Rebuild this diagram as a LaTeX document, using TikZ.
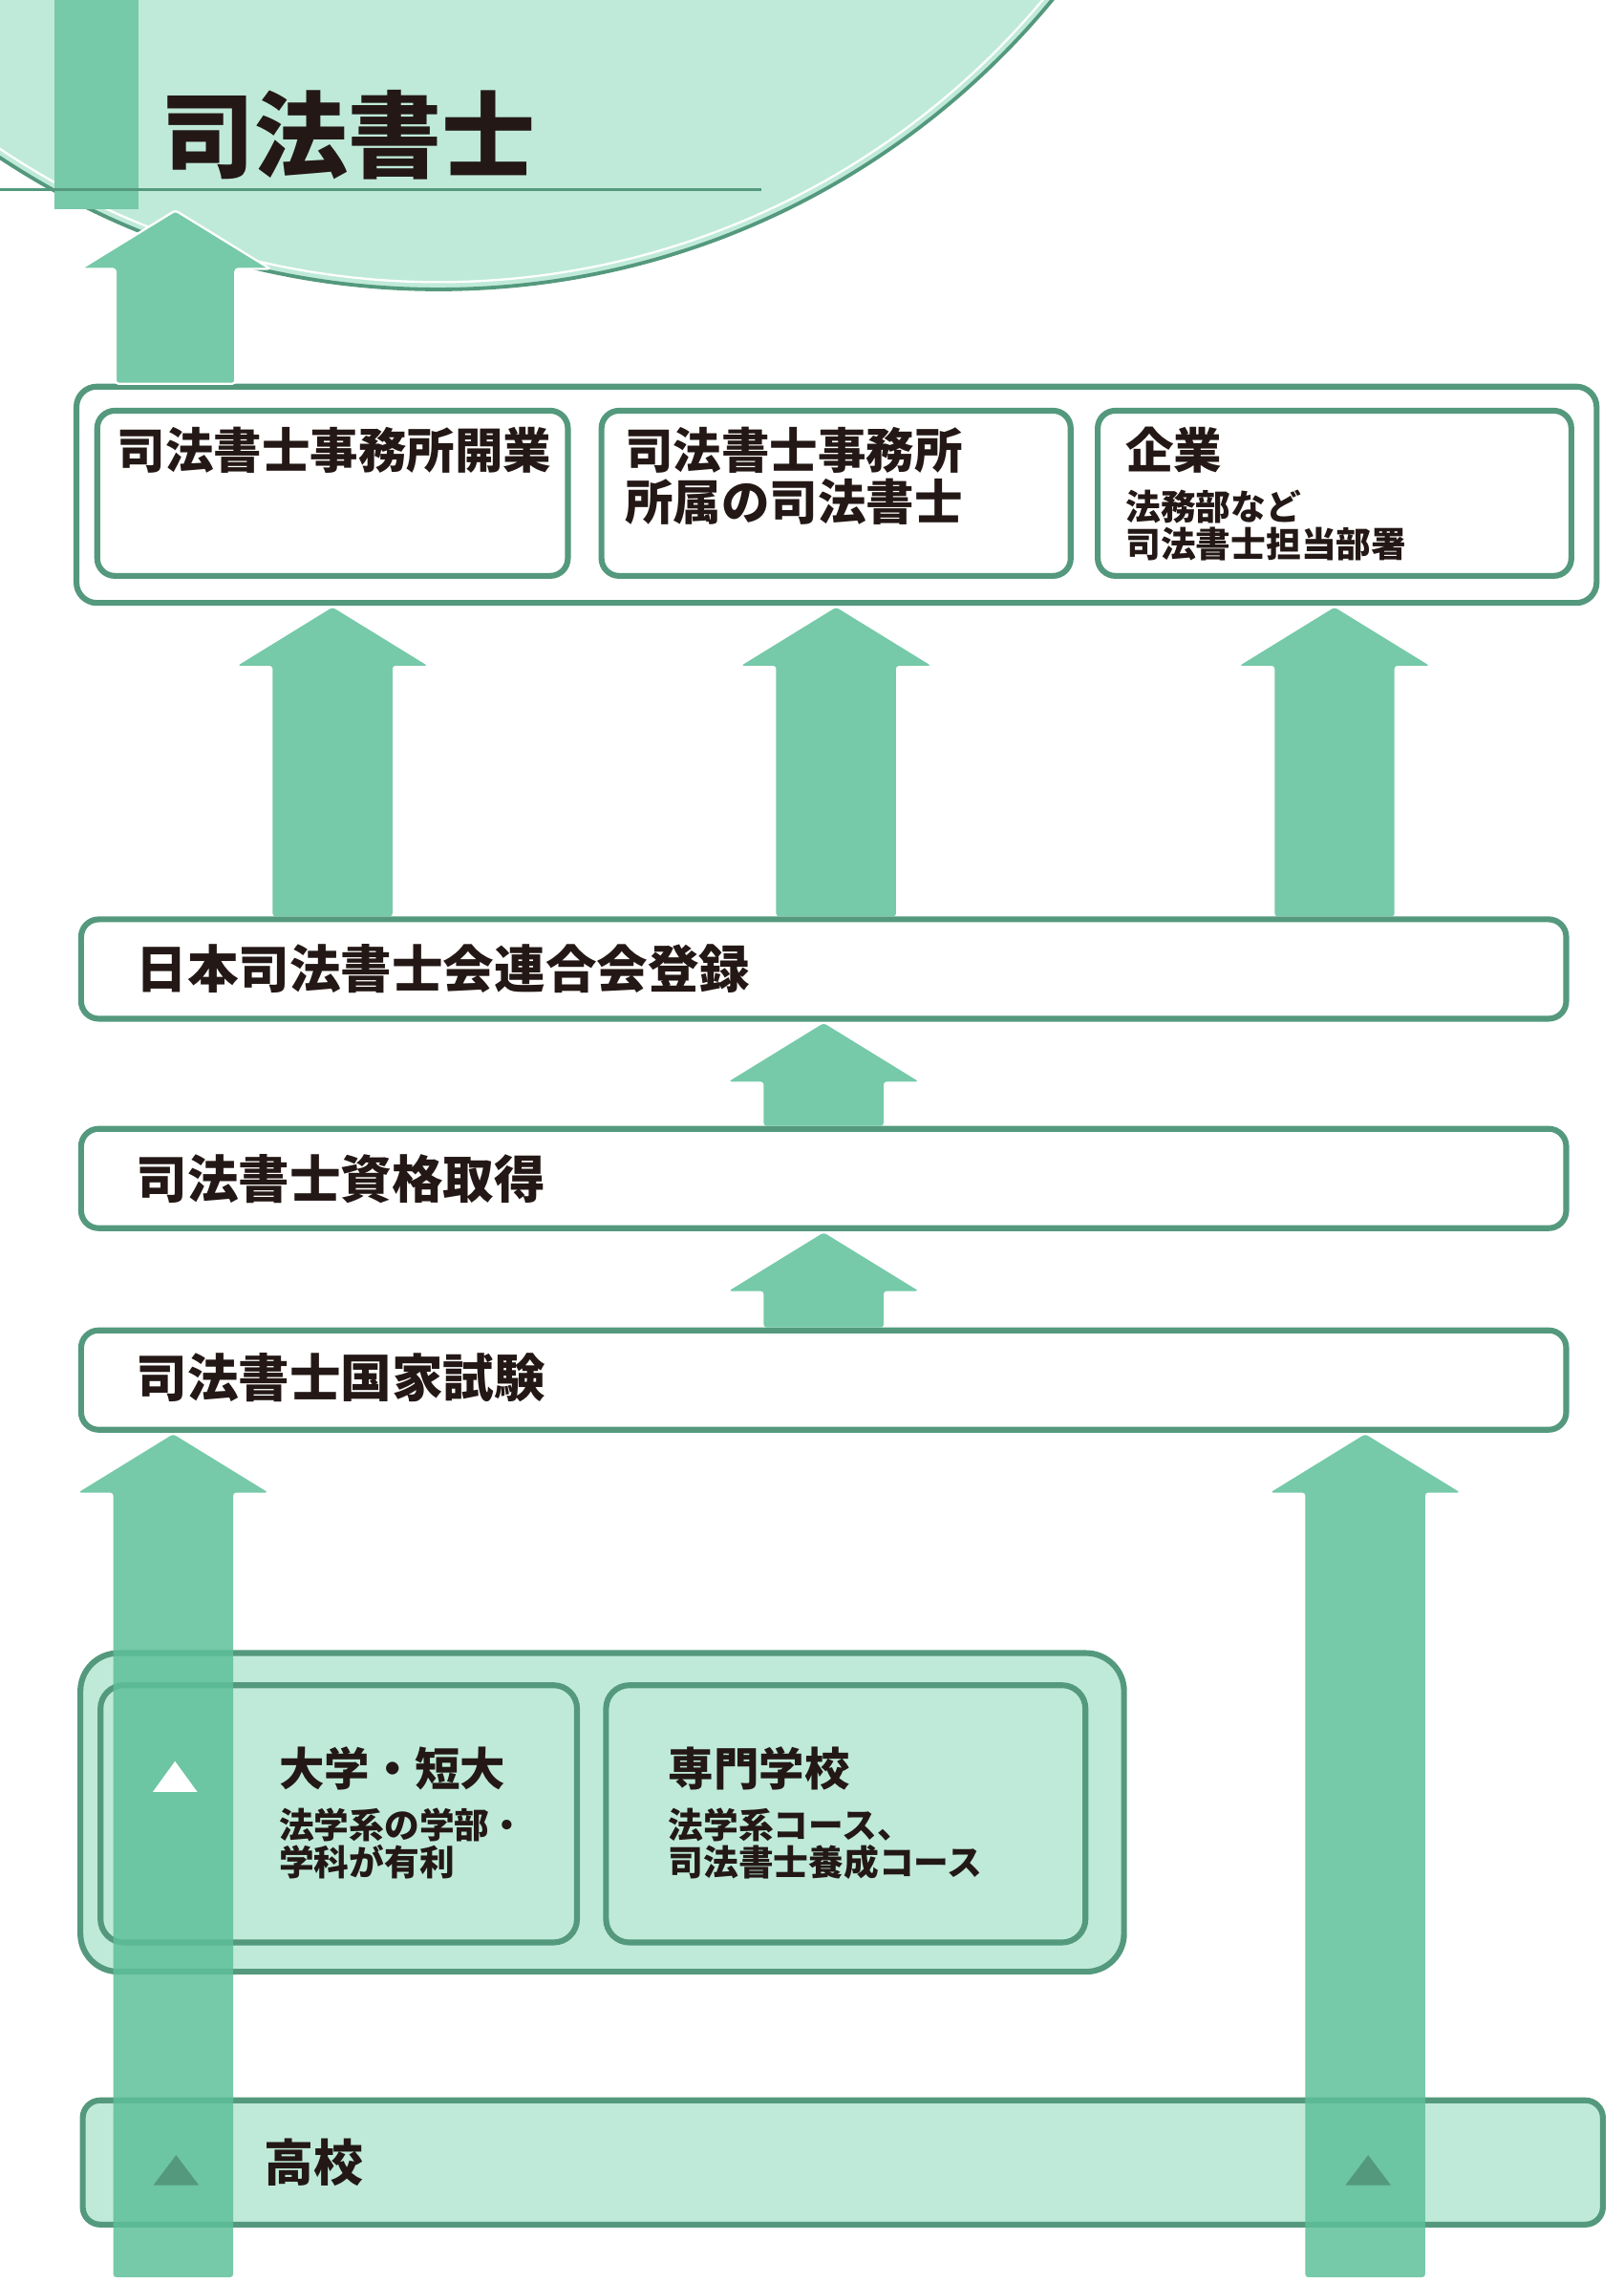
\documentclass[tikz,border=0pt]{standalone}
\usepackage{fontspec}
\usepackage{tikz}
\usetikzlibrary{positioning, calc}
\newfontfamily\jpfont{Noto Sans CJK JP}

\definecolor{linegreen}{HTML}{54997D}
\definecolor{palegreen}{HTML}{BFEADA}
\definecolor{arrowgreen}{HTML}{76C9A9}
\definecolor{arrowdeep}{HTML}{5EBF9A}
\definecolor{inkblack}{HTML}{231815}

% block arrow standing on one node and pointing up at another
\newcommand{\blockarrow}[3][]{%
  \fill[arrowgreen, rounded corners=2pt, #1] let \p1=(#2), \p2=(#3) in
    (\x1-41pt,\y1+2pt) -- (\x1-41pt,\y2-43pt) -- (\x1-65pt,\y2-43pt) -- (\x1,\y2-3pt)
    -- (\x1+65pt,\y2-43pt) -- (\x1+41pt,\y2-43pt) -- (\x1+41pt,\y1+2pt) -- cycle;}

\begin{document}
\begin{tikzpicture}[x=1pt, y=-1pt,
    box/.style={draw=linegreen, line width=4pt, rounded corners=12pt, fill=white, inner sep=0pt, outer sep=0pt},
    palebox/.style={box, fill=palegreen},
    boxtext/.style={text=inkblack, font=\jpfont\bfseries\fontsize{35}{38}\selectfont, inner sep=0pt, anchor=west},
    headtext/.style={text=inkblack, font=\jpfont\bfseries\fontsize{33}{35}\selectfont, inner sep=0pt, align=left, anchor=north west},
    schooltext/.style={headtext, font=\jpfont\bfseries\fontsize{31}{33}\selectfont},
    notetext/.style={text=inkblack, font=\jpfont\bfseries\fontsize{24}{25.5}\selectfont, inner sep=0pt, align=left},
    longarrow/.style={fill=arrowdeep, fill opacity=0.85}
  ]
  \useasboundingbox (0,0) rectangle (1111,1562);

  % title disc
  \fill[palegreen] (300,-346) circle[radius=544];
  \draw[linegreen, line width=2.5pt] (300,-346) circle[radius=544];
  \draw[white, line width=1.5pt] (300,-346) circle[radius=539];
  \fill[arrowgreen] (37,0) rectangle (94.5,143);
  \draw[linegreen, line width=2pt] (0,130) -- (521,130);
  \node[text=inkblack, font=\jpfont\bfseries\fontsize{64}{70}\selectfont, inner sep=0pt, anchor=west] (title) at (110,92) {司法書士};

  % careers
  \node[box, minimum width=1040pt, minimum height=148pt, rounded corners=14pt] (career) at (572.3,338.5) {};
  \node[box, minimum width=322pt, minimum height=113pt] (open) at (227.5,337.5) {};
  \node[box, minimum width=321pt, minimum height=113pt] (staff) at (572,337.5) {};
  \node[box, minimum width=324pt, minimum height=113pt] (company) at (913,337.5) {};
  \node[headtext] (opentext) at ([xshift=13.6pt, yshift=-11pt]open.north west) {司法書士事務所開業};
  \node[headtext] (stafftext) at ([xshift=16pt, yshift=-11pt]staff.north west) {司法書士事務所\\所属の司法書士};
  \node[headtext] (companytext) at ([xshift=19pt, yshift=-11pt]company.north west) {企業};
  \node[notetext, below=11pt of companytext.south west, anchor=north west] (companynote) {法務部など\\司法書士担当部署};

  % steps
  \node[box, minimum width=1016pt, minimum height=68pt] (reg) at (563.5,663) {};
  \node[box, minimum width=1016pt, minimum height=68pt] (qual) at (563.5,806.3) {};
  \node[box, minimum width=1016pt, minimum height=68pt] (exam) at (563.5,944.2) {};
  \node[boxtext] (regtext) at ([xshift=37.5pt]reg.west) {日本司法書士会連合会登録};
  \node[boxtext] (qualtext) at ([xshift=37.5pt]qual.west) {司法書士資格取得};
  \node[boxtext] (examtext) at ([xshift=37.5pt, yshift=2pt]exam.west) {司法書士国家試験};

  % schools
  \node[palebox, minimum width=714pt, minimum height=218pt, rounded corners=26pt] (school) at (412,1240) {};
  \node[palebox, minimum width=326pt, minimum height=176pt, rounded corners=16pt] (univ) at (231.75,1241) {};
  \node[palebox, minimum width=328pt, minimum height=176pt, rounded corners=16pt] (voc) at (578.6,1241) {};
  \node[schooltext] (univtext) at ([xshift=122pt, yshift=-42pt]univ.north west) {大学・短大};
  \node[notetext, below=12pt of univtext.south west, anchor=north west] (univnote) {法学系の学部・\\学科が有利};
  \node[schooltext] (voctext) at ([xshift=42.5pt, yshift=-42pt]voc.north west) {専門学校};
  \node[notetext, below=12pt of voctext.south west, anchor=north west] (vocnote) {法学系コース、\\司法書士養成コース};

  \node[palebox, minimum width=1040pt, minimum height=85pt] (high) at (576.6,1479.5) {};
  \node[boxtext, font=\jpfont\bfseries\fontsize{34}{36}\selectfont] (hightext) at ([xshift=124pt]high.west) {高校};

  % arrows
  \coordinate (goal) at (120,141);
  \coordinate (lfoot) at (118.5,1560);
  \coordinate (rfoot) at (934,1560);
  \blockarrow[draw=white, line width=1.5pt]{goal |- career.north}{goal}
  \blockarrow{reg.north -| open.south}{open.south |- career.south}
  \blockarrow{reg.north -| staff.south}{staff.south |- career.south}
  \blockarrow{reg.north -| company.south}{company.south |- career.south}
  \blockarrow{qual.north}{reg.south}
  \blockarrow{exam.north}{qual.south}
  \blockarrow[longarrow]{lfoot}{lfoot |- exam.south}
  \blockarrow[longarrow]{rfoot}{rfoot |- exam.south}

  % markers on the long arrows
  \fill[white] (104.5,1226) -- (119.75,1205) -- (135,1226) -- cycle;
  \foreach \mx in {120.5, 936}
    \fill[linegreen] (\mx-15.5,1495) -- (\mx,1474.5) -- (\mx+15.5,1495) -- cycle;
\end{tikzpicture}
\end{document}
